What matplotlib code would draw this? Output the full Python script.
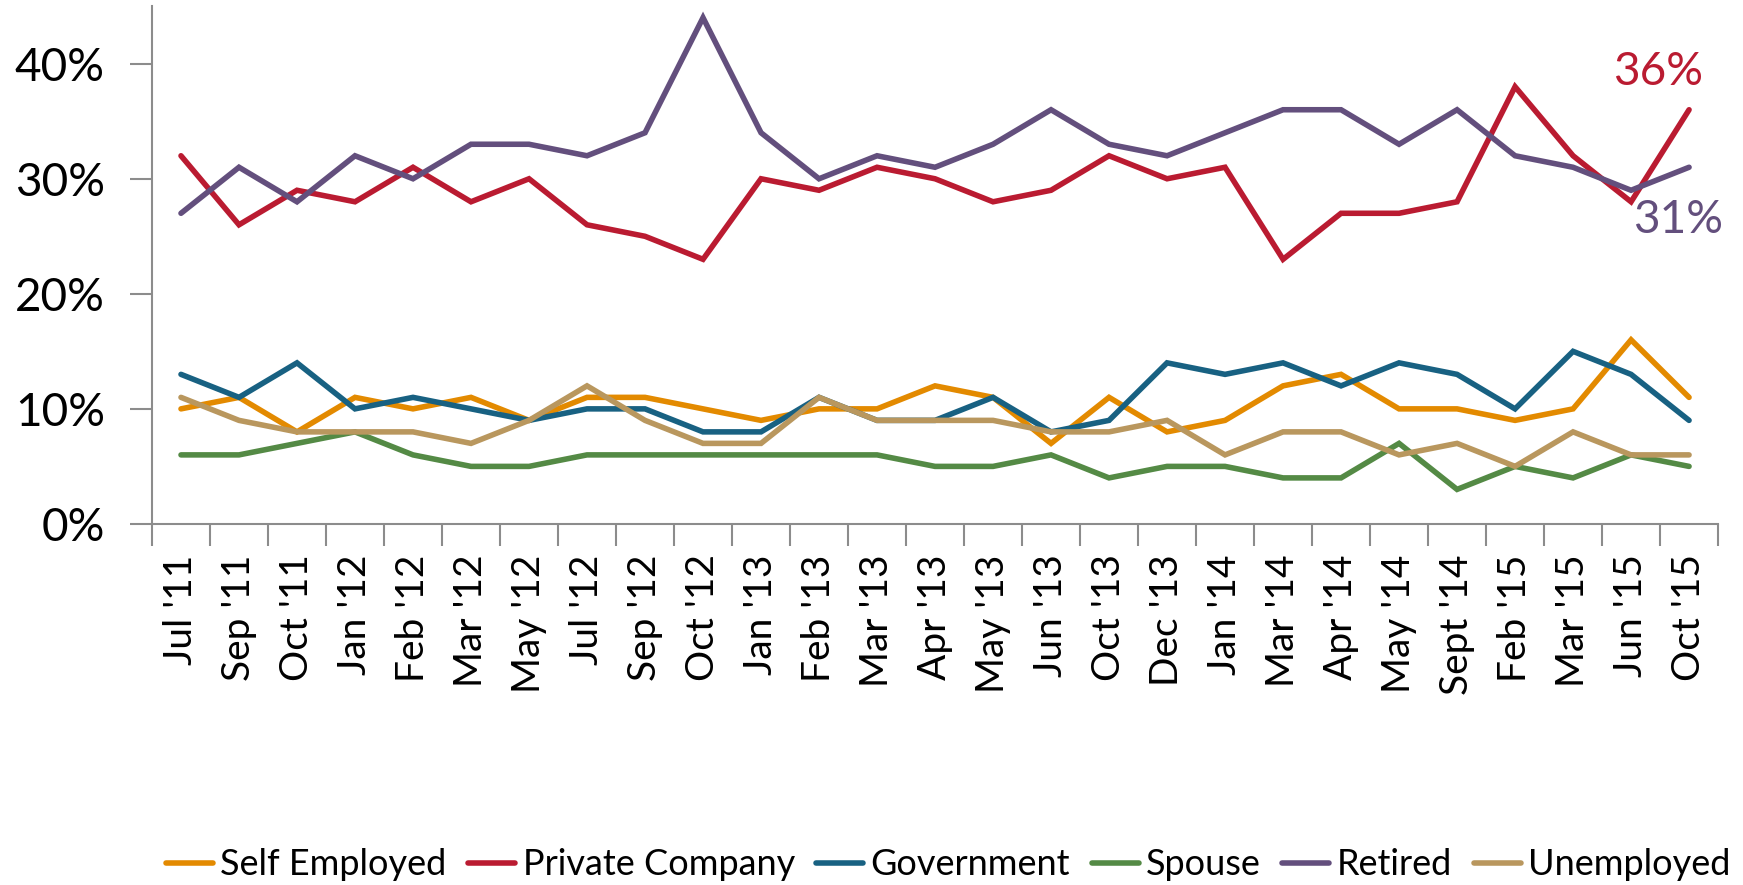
import matplotlib
matplotlib.use("Agg")
import matplotlib.pyplot as plt
from matplotlib.ticker import FixedLocator, FuncFormatter

plt.rcParams['font.family'] = ['Lato', 'DejaVu Sans']

months = ["Jul '11", "Sep '11", "Oct '11", "Jan '12", "Feb '12", "Mar '12", "May '12",
          "Jul '12", "Sep '12", "Oct '12", "Jan '13", "Feb '13", "Mar '13", "Apr '13",
          "May '13", "Jun '13", "Oct '13", "Dec '13", "Jan '14", "Mar '14", "Apr '14",
          "May '14", "Sept '14", "Feb '15", "Mar '15", "Jun '15", "Oct '15"]

self_employed = [10, 11, 8, 11, 10, 11, 9, 11, 11, 10, 9, 10, 10, 12, 11, 7, 11, 8, 9,
                 12, 13, 10, 10, 9, 10, 16, 11]
private_company = [32, 26, 29, 28, 31, 28, 30, 26, 25, 23, 30, 29, 31, 30, 28, 29, 32, 30,
                   31, 23, 27, 27, 28, 38, 32, 28, 36]
government = [13, 11, 14, 10, 11, 10, 9, 10, 10, 8, 8, 11, 9, 9, 11, 8, 9, 14, 13, 14, 12,
              14, 13, 10, 15, 13, 9]
spouse = [6, 6, 7, 8, 6, 5, 5, 6, 6, 6, 6, 6, 6, 5, 5, 6, 4, 5, 5, 4, 4, 7, 3, 5, 4, 6, 5]
retired = [27, 31, 28, 32, 30, 33, 33, 32, 34, 44, 34, 30, 32, 31, 33, 36, 33, 32, 34, 36,
           36, 33, 36, 32, 31, 29, 31]
unemployed = [11, 9, 8, 8, 8, 7, 9, 12, 9, 7, 7, 11, 9, 9, 9, 8, 8, 9, 6, 8, 8, 6, 7, 5, 8,
              6, 6]

series = [
    ("Self Employed", self_employed, "#E38A00"),
    ("Private Company", private_company, "#BA1B31"),
    ("Government", government, "#186182"),
    ("Spouse", spouse, "#548A45"),
    ("Retired", retired, "#634F7D"),
    ("Unemployed", unemployed, "#B9975E"),
]

fig = plt.figure(figsize=(17.43, 8.85), dpi=100)
ax = fig.add_axes([0.0872, 0.408, 0.8985, 0.585])

x = list(range(len(months)))
for name, vals, col in series:
    ax.plot(x, vals, color=col, lw=4.0, label=name, solid_joinstyle='miter',
            solid_capstyle='round')

ax.set_xlim(-0.5, len(months) - 0.5)
ax.set_ylim(0, 45)

ax.yaxis.set_major_locator(FixedLocator([0, 10, 20, 30, 40]))
ax.yaxis.set_major_formatter(FuncFormatter(lambda v, p: f"{int(v)}%"))

ax.set_xticks(x)
ax.set_xticklabels(months, rotation=90, fontsize=28)
ax.set_xticks([i - 0.5 for i in range(len(months) + 1)], minor=True)
ax.tick_params(axis='x', which='major', length=0, pad=22)
ax.tick_params(axis='x', which='minor', length=16, width=1.5, color='#8C8C8C')
ax.tick_params(axis='y', which='major', length=16, width=1.5, color='#8C8C8C',
               labelsize=33, pad=18)

for s in ['top', 'right']:
    ax.spines[s].set_visible(False)
for s in ['left', 'bottom']:
    ax.spines[s].set_color('#8C8C8C')
    ax.spines[s].set_linewidth(1.5)

# end-point value labels
last = len(months) - 1
ax.annotate(f"{private_company[-1]}%", (last, private_company[-1]), xytext=(-22, 27),
            textcoords='offset points', color="#BA1B31", fontsize=33,
            ha='center', va='center')
ax.annotate(f"{retired[-1]}%", (last, retired[-1]), xytext=(-8, -38),
            textcoords='offset points', color="#634F7D", fontsize=33,
            ha='center', va='center')

fig.legend(loc='center', bbox_to_anchor=(0.544, 0.023), ncol=6, frameon=False,
           fontsize=26, handlelength=1.3, handletextpad=0.2, columnspacing=0.6)

fig.savefig("out.png", dpi=100)
